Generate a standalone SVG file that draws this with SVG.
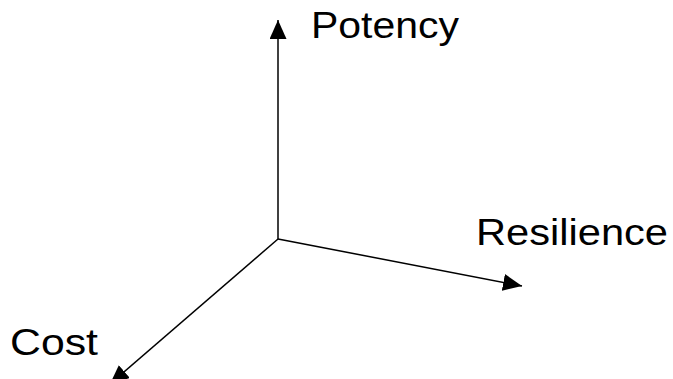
<svg xmlns="http://www.w3.org/2000/svg" width="673" height="379" viewBox="0 0 673 379">
<style>
.axis{stroke:#000;stroke-width:1.5;fill:none}
.lbl{font-family:"Liberation Sans",Arial,sans-serif;font-size:36px;fill:#000}
</style>
<defs>
<marker id="ah" markerUnits="userSpaceOnUse" viewBox="-19 -8.5 19 17" markerWidth="19" markerHeight="17" refX="0" refY="0" orient="auto">
<path d="M0,0 L-19,-8.5 L-19,8.5 Z" fill="#000"/>
</marker>
</defs>
<rect width="673" height="379" fill="#fff"/>
<g id="connectors">
<line class="axis" x1="278" y1="239" x2="278" y2="20" marker-end="url(#ah)"/>
<line class="axis" x1="278" y1="239" x2="522" y2="286" marker-end="url(#ah)"/>
<line class="axis" x1="278" y1="239" x2="110" y2="384" marker-end="url(#ah)"/>
</g>
<g id="potency"><text class="lbl" x="311" y="38" textLength="148" lengthAdjust="spacingAndGlyphs">Potency</text></g>
<g id="resilience"><text class="lbl" x="476" y="245" textLength="192" lengthAdjust="spacingAndGlyphs">Resilience</text></g>
<g id="cost"><text class="lbl" x="10" y="355" textLength="88" lengthAdjust="spacingAndGlyphs">Cost</text></g>
</svg>
